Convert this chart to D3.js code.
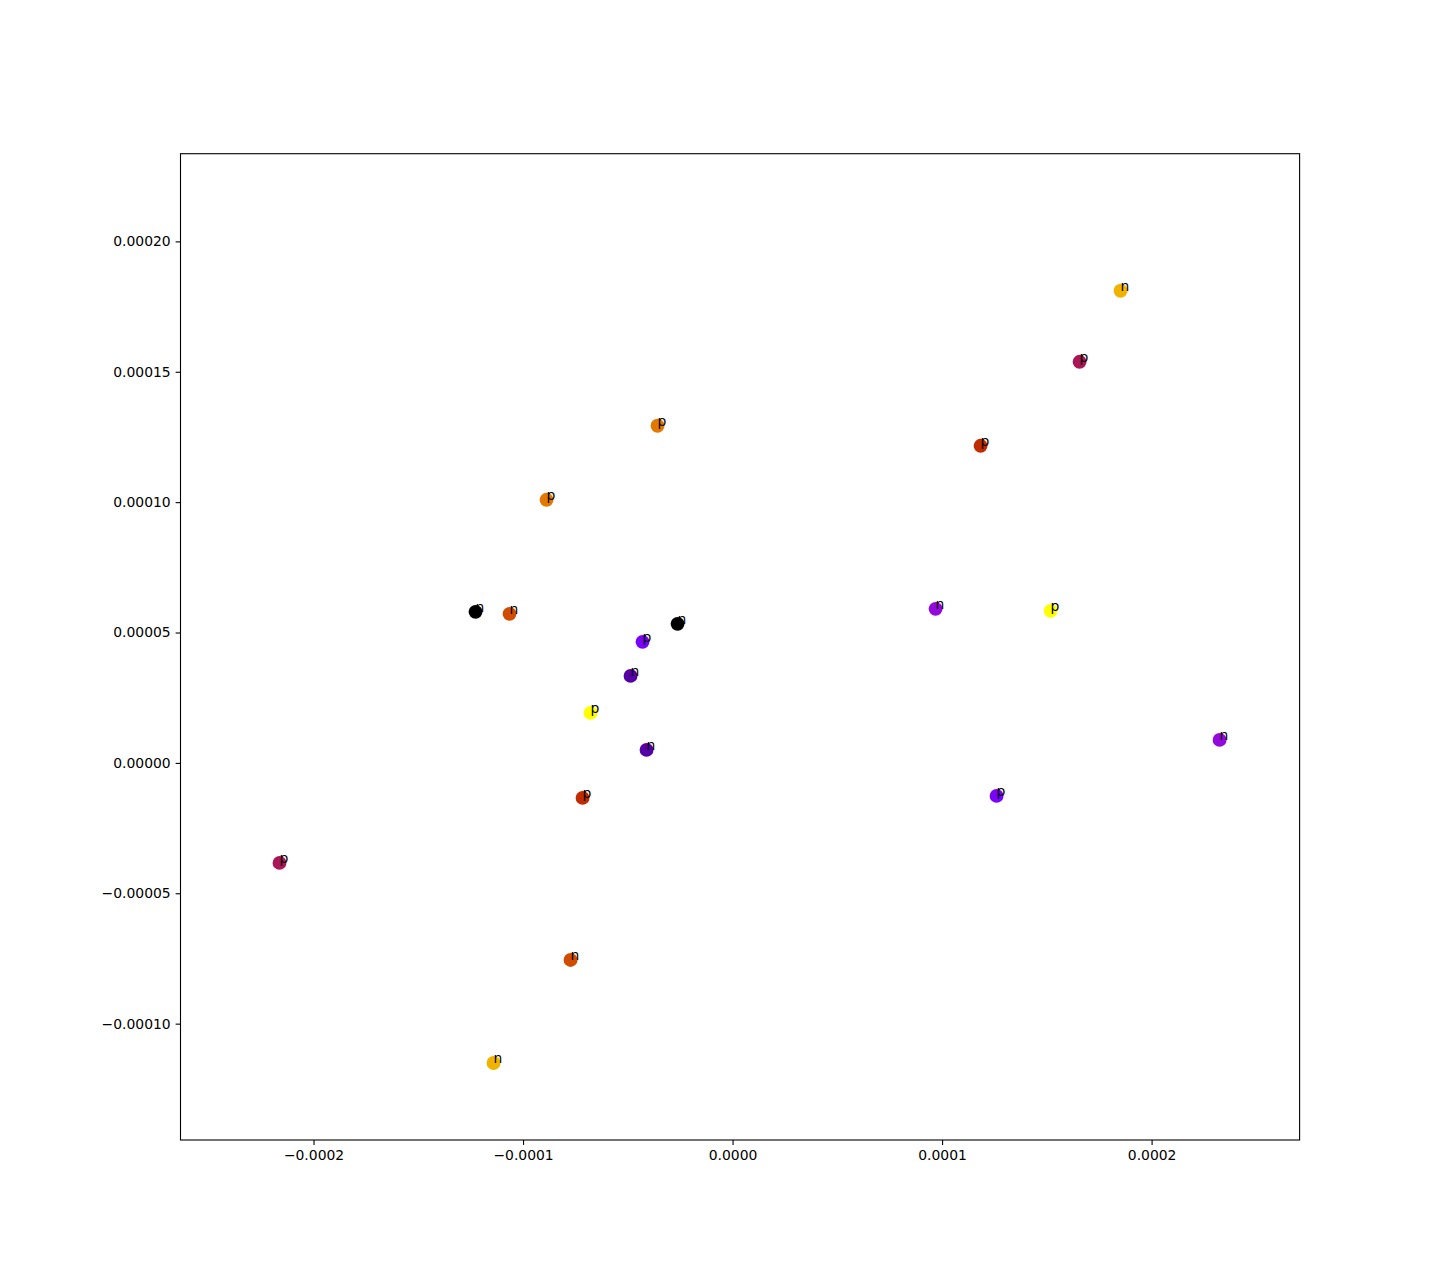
<!DOCTYPE html>
<html><head><meta charset="utf-8">
<script src="https://cdn.jsdelivr.net/npm/d3@7"></script>
<style>body{margin:0;background:#fff}svg{display:block}text{font-family:"DejaVu Sans",sans-serif}</style>
</head><body>
<script>
const xs = [-1.2267e-4, -1.0644e-4, -0.4296e-4, -0.4869e-4, -0.6778e-4, -0.4105e-4, -0.8878e-4, -0.3580e-4, 0.9690e-4, 1.5179e-4,
            -0.7160e-4, -2.1623e-4, -0.7733e-4, -1.1408e-4, 1.8520e-4, 1.6563e-4, 1.1838e-4, 1.2601e-4, 2.3246e-4, -0.2625e-4];
const ys = [5.793e-5, 5.716e-5, 4.642e-5, 3.337e-5, 1.918e-5, 0.499e-5, 10.09e-5, 12.93e-5, 5.907e-5, 5.831e-5,
            -1.343e-5, -3.836e-5, -7.557e-5, -11.508e-5, 18.106e-5, 15.382e-5, 12.160e-5, -1.266e-5, 0.882e-5, 5.332e-5];
const groups = [0, 6, 2, 1, 9, 1, 7, 7, 3, 9, 5, 4, 6, 8, 8, 4, 5, 2, 3, 0];
const labels = ["n","n","p","n","p","n","p","p","n","p","p","p","n","n","n","p","p","p","n","n"];
const xTicks = [-0.0002, -0.0001, 0, 0.0001, 0.0002];
const yTicks = [-0.0001, -0.00005, 0, 0.00005, 0.0001, 0.00015, 0.0002];

const W = 1444, H = 1281;
const L = 180.5, R = 1299.6, T = 153.7, B = 1140.0;
const svg = d3.select("body").append("svg").attr("width", W).attr("height", H);
const x = d3.scaleLinear().domain([-2.6349e-4, 2.7064e-4]).range([L, R]);
const y = d3.scaleLinear().domain([-1.4462e-4, 2.3363e-4]).range([B, T]);

function gnuplot(c){
  const r = Math.sqrt(c), g = c*c*c, b = Math.max(0, Math.sin(2*Math.PI*c));
  return d3.rgb(r*255, g*255, b*255).formatHex();
}
const fmtX = v => { const s = v.toFixed(4); return (v < 0 ? "\u2212" + s.slice(1) : s); };
const fmtY = v => { const s = v.toFixed(5); return (v < 0 ? "\u2212" + s.slice(1) : s); };

const xAxis = d3.axisBottom(x).tickValues(xTicks).tickSize(4.9).tickPadding(4.9).tickFormat(fmtX);
const yAxis = d3.axisLeft(y).tickValues(yTicks).tickSize(4.9).tickPadding(4.9).tickFormat(fmtY);
const gx = svg.append("g").attr("transform", `translate(0,${B})`).call(xAxis);
const gy = svg.append("g").attr("transform", `translate(${L},0)`).call(yAxis);
[gx, gy].forEach(g => {
  g.select(".domain").remove();
  g.selectAll("line").attr("stroke", "#000").attr("stroke-width", 1.1);
  g.selectAll("text").attr("font-size", "13.9px").attr("fill", "#000").attr("font-family", "DejaVu Sans");
});

const data = xs.map((v, i) => ({x: v, y: ys[i], g: groups[i], l: labels[i]}));
svg.append("g").selectAll("circle").data(data).join("circle")
  .attr("cx", d => x(d.x)).attr("cy", d => y(d.y)).attr("r", 6.95)
  .attr("fill", d => gnuplot(d.g / 9));
svg.append("g").selectAll("text").data(data).join("text")
  .attr("x", d => x(d.x)).attr("y", d => y(d.y))
  .attr("font-size", "13.9px").attr("fill", "#000").text(d => d.l);

svg.append("rect").attr("x", L).attr("y", T).attr("width", R - L).attr("height", B - T)
  .attr("fill", "none").attr("stroke", "#000").attr("stroke-width", 1.1);
</script>
</body></html>
